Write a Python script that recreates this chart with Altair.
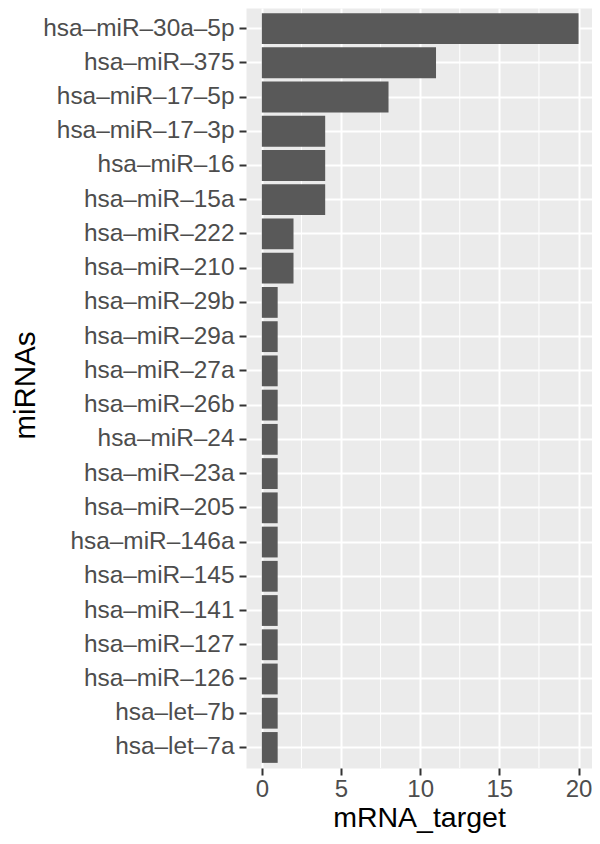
import altair as alt
import pandas as pd

mirnas = [
    "hsa–miR–30a–5p", "hsa–miR–375", "hsa–miR–17–5p", "hsa–miR–17–3p",
    "hsa–miR–16", "hsa–miR–15a", "hsa–miR–222", "hsa–miR–210",
    "hsa–miR–29b", "hsa–miR–29a", "hsa–miR–27a", "hsa–miR–26b",
    "hsa–miR–24", "hsa–miR–23a", "hsa–miR–205", "hsa–miR–146a",
    "hsa–miR–145", "hsa–miR–141", "hsa–miR–127", "hsa–miR–126",
    "hsa–let–7b", "hsa–let–7a",
]
targets = [20, 11, 8, 4, 4, 4, 2, 2, 1, 1, 1, 1, 1, 1, 1, 1, 1, 1, 1, 1, 1, 1]
x_ticks = [0, 5, 10, 15, 20]
x_minor = [2.5, 7.5, 12.5, 17.5]

df = pd.DataFrame({"miRNAs": mirnas, "mRNA_target": targets})
minor_df = pd.DataFrame({"mRNA_target": x_minor})

FONT = "Liberation Sans"
xscale = alt.Scale(domain=[-1, 20.85], nice=False)
yscale = alt.Scale(paddingInner=0.1, paddingOuter=0.15)

xaxis = alt.Axis(
    values=x_ticks,
    title="mRNA_target",
    grid=True,
    gridColor="white",
    gridWidth=2,
    domain=False,
    tickColor="#333333",
    tickSize=7,
    tickWidth=2,
    labelFont=FONT,
    labelFontSize=24,
    labelColor="#4D4D4D",
    labelPadding=2,
    labelFlush=False,
    titleFont=FONT,
    titleFontSize=28.5,
    titleFontWeight="normal",
    titleColor="black",
    titleY=58,
    titleBaseline="alphabetic",
)

minor = alt.Chart(minor_df).mark_rule(color="white", strokeWidth=1).encode(
    x=alt.X("mRNA_target:Q", scale=xscale, axis=xaxis)
)

bars = alt.Chart(df).mark_bar(color="#595959").encode(
    x=alt.X("mRNA_target:Q", scale=xscale, axis=xaxis),
    y=alt.Y(
        "miRNAs:N",
        sort=mirnas,
        scale=yscale,
        axis=alt.Axis(
            title="miRNAs",
            bandPosition=0.5,
            grid=True,
            gridColor="white",
            gridWidth=2,
            domain=False,
            tickColor="#333333",
            tickSize=7,
            tickWidth=2,
            labelFont=FONT,
            labelFontSize=24.4,
            labelColor="#4D4D4D",
            labelPadding=5,
            labelLimit=400,
            titleFont=FONT,
            titleFontSize=29.5,
            titleFontWeight="normal",
            titleColor="black",
            titleAngle=270,
            titleX=-212,
            titleY=377,
            titleAlign="center",
            titleBaseline="alphabetic",
        ),
    ),
)

chart = (
    alt.layer(minor, bars)
    .properties(
        width=346,
        height=760,
        padding={"left": 238, "top": 0, "right": 0, "bottom": 68},
        autosize=alt.AutoSizeParams(type="none"),
    )
    .configure(background="white")
    .configure_view(fill="#EBEBEB", stroke="transparent")
)

chart.save("out.html", embed_options={"renderer": "svg", "actions": False})
